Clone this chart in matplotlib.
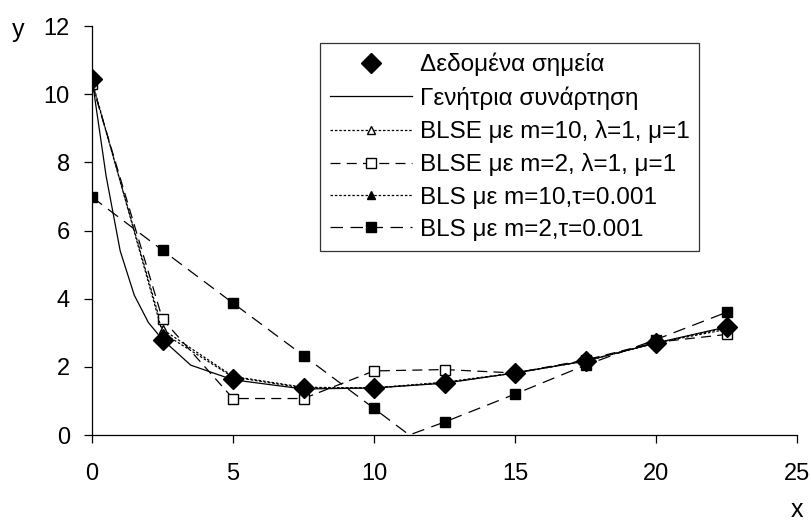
import matplotlib
matplotlib.use("Agg")
import matplotlib.pyplot as plt

plt.rcParams['font.family'] = ['Liberation Sans', 'DejaVu Sans']

x_pts = [0, 2.5, 5, 7.5, 10, 12.5, 15, 17.5, 20, 22.5]
data_y = [10.45, 2.8, 1.65, 1.37, 1.38, 1.52, 1.82, 2.17, 2.7, 3.17]

gen_x = [0, 0.5, 1, 1.5, 2, 2.5, 3.5, 5, 7.5, 10, 12.5, 15, 17.5, 20, 22.5]
gen_y = [10.45, 7.6, 5.4, 4.1, 3.3, 2.8, 2.05, 1.62, 1.35, 1.38, 1.52, 1.82, 2.17, 2.7, 3.17]

blse10_y = [10.35, 3.1, 1.72, 1.4, 1.38, 1.55, 1.82, 2.17, 2.7, 3.1]
blse2_y = [10.3, 3.4, 1.07, 1.07, 1.88, 1.92, 1.82, 2.2, 2.72, 2.95]
bls10_y = [10.4, 3.0, 1.7, 1.38, 1.38, 1.53, 1.82, 2.17, 2.7, 3.15]

bls2_x = [0, 2.5, 5, 7.5, 10, 11.25, 12.5, 15, 17.5, 20, 22.5]
bls2_y = [6.98, 5.42, 3.87, 2.33, 0.78, 0.0, 0.38, 1.2, 2.05, 2.8, 3.6]
bls2_marks = [0, 1, 2, 3, 4, 6, 7, 8, 9, 10]

labels = ["Δεδομένα σημεία", "Γενήτρια συνάρτηση",
          "BLSE με m=10, λ=1, μ=1", "BLSE με m=2, λ=1, μ=1",
          "BLS με m=10,τ=0.001", "BLS με m=2,τ=0.001"]

fig = plt.figure(figsize=(8.11, 5.25), dpi=100)
ax = fig.add_axes([92/811, 1-435/525, (797-92)/811, (435-26)/525])

lw = 0.9
h_data, = ax.plot(x_pts, data_y, linestyle='none', marker='D', markersize=10,
                  color='black', zorder=6)
h_gen, = ax.plot(gen_x, gen_y, '-', color='black', lw=lw, zorder=3)
h_blse10, = ax.plot(x_pts, blse10_y, linestyle=(0, (2, 1.5)), color='black', lw=lw,
                    marker='^', markersize=6, markerfacecolor='white', zorder=4)
h_blse2, = ax.plot(x_pts, blse2_y, linestyle=(0, (8, 5)), color='black', lw=lw,
                   marker='s', markersize=6.5, markerfacecolor='white', zorder=4)
h_bls10, = ax.plot(x_pts, bls10_y, linestyle=(0, (2, 1.5)), color='black', lw=lw,
                   marker='^', markersize=6, markerfacecolor='black', zorder=4)
h_bls2, = ax.plot(bls2_x, bls2_y, linestyle=(0, (10, 6)), color='black', lw=lw,
                  marker='s', markersize=7, markevery=bls2_marks, zorder=4)

ax.set_xlim(0, 25)
ax.set_ylim(0, 12)
ax.set_xticks([0, 5, 10, 15, 20, 25])
ax.set_yticks([0, 2, 4, 6, 8, 10, 12])
ax.spines['top'].set_visible(False)
ax.spines['right'].set_visible(False)
ax.spines['left'].set_linewidth(0.9)
ax.spines['bottom'].set_linewidth(0.9)
ax.tick_params(direction='out', length=6, width=0.9, labelsize=17, pad=10)
ax.tick_params(axis='x', pad=14)

fig.text(18/811, 1-30/525, 'y', fontsize=18, ha='center', va='center')
fig.text(797/811, 1-510/525, 'x', fontsize=18, ha='center', va='center')

leg = ax.legend([h_data, h_gen, h_blse10, h_blse2, h_bls10, h_bls2], labels,
                loc='upper left', bbox_to_anchor=((320-92)/705, (435-43)/409),
                fontsize=17.5, frameon=True, fancybox=False, shadow=False,
                handlelength=3.4, handletextpad=0.3, labelspacing=0.42,
                borderpad=0.4, borderaxespad=0)
leg.get_frame().set_edgecolor('black')
leg.get_frame().set_linewidth(0.9)

fig.savefig('out.png', dpi=100)
